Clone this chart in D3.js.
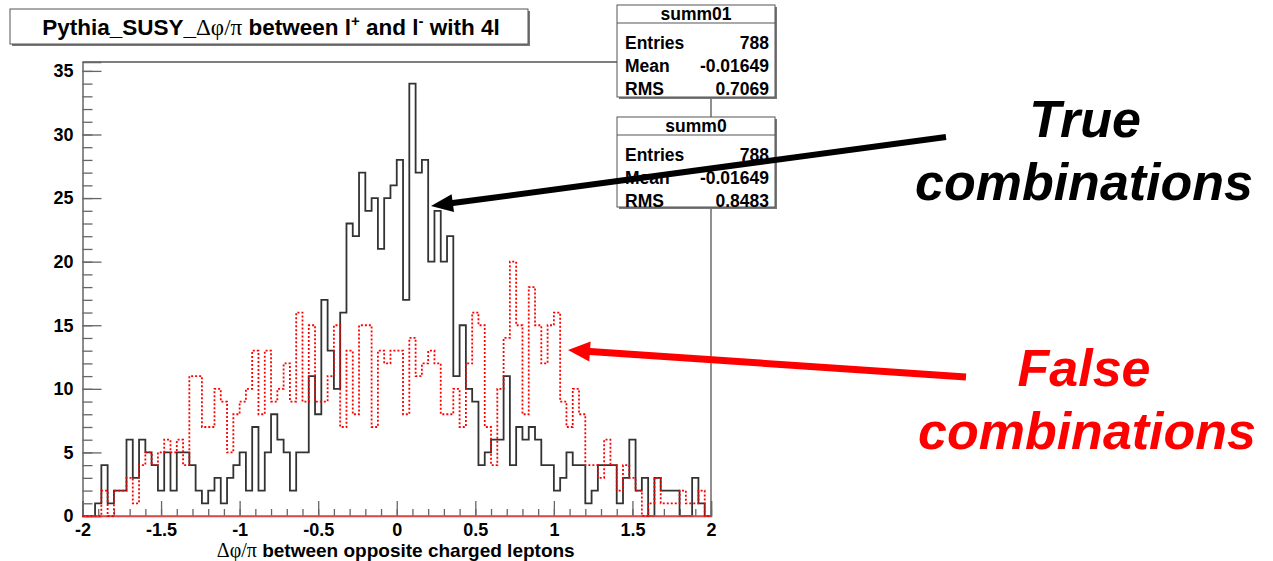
<!DOCTYPE html>
<html><head><meta charset="utf-8">
<script src="https://cdn.jsdelivr.net/npm/d3@7"></script>
<style>
body{margin:0;background:#fff;}
svg{display:block;}
text{font-family:"Liberation Sans",Arial,Helvetica,sans-serif;}
</style>
</head><body>
<svg id="c" width="1273" height="561"></svg>
<script>
// ---- data ----
const xMin = -2, xMax = 2;
const trueCounts = [0,0,1,4,1,2,2,6,3,6,5,4,2,5,2,5,5,4,2,1,2,3,1,3,4,
  5,2,7,2,5,8,6,5,2,5,5,11,8,17,13,10,16,23,22,27,24,25,21,25,26,
  28,17,34,27,28,20,24,20,22,11,15,10,9,4,5,6,6,11,4,7,6,7,6,4,4,
  2,3,5,4,4,1,2,4,4,4,1,3,6,2,3,0,3,2,2,2,0,0,3,1,0];
const falseCounts = [0,0,0,2,0,2,2,3,1,4,5,4,5,6,5,6,4,11,11,7,7,10,9,5,8,
  9,10,13,8,13,9,10,12,9,16,9,15,9,9,11,15,7,13,8,15,15,7,13,12,13,
  13,8,14,11,12,13,12,8,8,10,7,12,16,15,7,4,10,14,20,15,8,18,15,12,15,
  16,9,7,10,8,4,4,3,6,4,2,4,3,2,0,1,3,1,1,1,2,1,1,2,0];
const yTicks = [0,5,10,15,20,25,30,35];
const xTicks = [-2,-1.5,-1,-0.5,0,0.5,1,1.5,2];
const xTickLabels = ["-2","-1.5","-1","-0.5","0","0.5","1","1.5","2"];
const statNames = ["summ01","summ0"];
const statEntries = ["788","788"];
const statMeans = ["-0.01649","-0.01649"];
const statRms = ["0.7069","0.8483"];

// ---- layout ----
const svg = d3.select("#c");
const L = 82.5, R = 711, T = 62, B = 516;
const x = d3.scaleLinear().domain([xMin, xMax]).range([L, R]);
const y = d3.scaleLinear().domain([0, 35.7]).range([B, T]);

// frame
svg.append("path").attr("d", `M${L},${T}H${R}V${B}`).attr("fill","none").attr("stroke","#555").attr("stroke-width",1.3);

// axes
function styleAxis(g){ g.selectAll("line").attr("stroke","#666").attr("stroke-width",1.3); g.select(".domain").attr("stroke","#666").attr("stroke-width",1.5); }
const yMinor = svg.append("g").attr("transform",`translate(${L},0)`)
  .call(d3.axisLeft(y).tickValues(d3.range(0,36,1)).tickSize(-10).tickFormat(""));
yMinor.select(".domain").remove(); styleAxis(yMinor);
const yMajor = svg.append("g").attr("transform",`translate(${L},0)`)
  .call(d3.axisLeft(y).tickValues(yTicks).tickSize(-19).tickPadding(9));
styleAxis(yMajor);
yMajor.selectAll("text").attr("font-size",18).attr("font-weight","bold").attr("fill","#000");

const xMinor = svg.append("g").attr("transform",`translate(0,${B})`)
  .call(d3.axisBottom(x).tickValues(d3.range(-20,21).map(d=>d/10)).tickSize(-7).tickFormat(""));
xMinor.select(".domain").remove(); styleAxis(xMinor);
const xMajor = svg.append("g").attr("transform",`translate(0,${B})`)
  .call(d3.axisBottom(x).tickValues(xTicks).tickSize(-15).tickPadding(7).tickFormat((d,i)=>xTickLabels[i]));
styleAxis(xMajor);
xMajor.selectAll("text").attr("font-size",18).attr("font-weight","bold").attr("fill","#000");

// axis title
const xt = svg.append("text").attr("x", x(0)-1).attr("y", 557).attr("text-anchor","middle")
  .attr("font-size",19).attr("font-weight","bold");
xt.append("tspan").attr("font-family","'Liberation Serif',serif").attr("font-weight","normal").attr("font-size",20).text("Δφ/π");
xt.append("tspan").text(" between opposite charged leptons");

// histograms
function stepPoints(counts){
  const w = (xMax - xMin) / counts.length;
  const pts = [[xMin, 0]];
  counts.forEach((c,i)=>{ pts.push([xMin + i*w, c]); pts.push([xMin + (i+1)*w, c]); });
  pts.push([xMax, 0]);
  return pts;
}
const line = d3.line().x(d=>x(d[0])).y(d=>y(d[1]));
svg.append("path").attr("d", line(stepPoints(trueCounts))).attr("fill","none")
  .attr("stroke","#333").attr("stroke-width",1.8);
svg.append("path").attr("d", line([[xMin,0],[xMax,0]])).attr("stroke","#ff4040").attr("stroke-width",1.6);
svg.append("path").attr("d", line(stepPoints(falseCounts))).attr("fill","none")
  .attr("stroke","#ff0000").attr("stroke-width",1.8).attr("stroke-dasharray","2,2");

// title box
function pave(x0,y0,w,h){
  svg.append("rect").attr("x",x0+2).attr("y",y0+2).attr("width",w).attr("height",h).attr("fill","#777");
  svg.append("rect").attr("x",x0).attr("y",y0).attr("width",w).attr("height",h).attr("fill","#fff").attr("stroke","#555").attr("stroke-width",1);
}
pave(10,9,518,35);
const tt = svg.append("text").attr("x",271).attr("y",35).attr("text-anchor","middle").attr("font-size",22.5).attr("font-weight","bold");
tt.append("tspan").text("Pythia_SUSY_");
tt.append("tspan").attr("font-family","'Liberation Serif',serif").attr("font-weight","normal").attr("font-size",23).text("Δφ/π");
tt.append("tspan").text(" between l");
tt.append("tspan").attr("font-size",15).attr("dy",-9).text("+");
tt.append("tspan").attr("dy",9).text(" and l");
tt.append("tspan").attr("font-size",15).attr("dy",-9).text("-");
tt.append("tspan").attr("dy",9).text(" with 4l");

// stats boxes
const boxY = [5, 117];
const boxH = [92, 90];
statNames.forEach((n,i)=>{
  const x0 = 617, w = 158, y0 = boxY[i];
  pave(x0,y0,w,boxH[i]);
  svg.append("line").attr("x1",x0).attr("x2",x0+w).attr("y1",y0+18).attr("y2",y0+18).attr("stroke","#555");
  const g = svg.append("g").attr("font-size",17.5).attr("font-weight","bold");
  g.append("text").attr("x",x0+w/2).attr("y",y0+15).attr("text-anchor","middle").text(n);
  const rows = [["Entries",statEntries[i]],["Mean",statMeans[i]],["RMS",statRms[i]]];
  rows.forEach((r,j)=>{
    const yy = y0 + 44 + j*23;
    g.append("text").attr("x",x0+8).attr("y",yy).text(r[0]);
    g.append("text").attr("x",x0+w-6).attr("y",yy).attr("text-anchor","end").text(r[1]);
  });
});

// arrows
function arrow(x1,y1,x2,y2,shaft,headLen,headHalf,color){
  const dx=x2-x1, dy=y2-y1, Ln=Math.hypot(dx,dy), ux=dx/Ln, uy=dy/Ln, nx=-uy, ny=ux;
  const bx=x2-ux*headLen, by=y2-uy*headLen;
  const pts=[[x1+nx*shaft/2,y1+ny*shaft/2],[bx+nx*shaft/2,by+ny*shaft/2],[bx+nx*headHalf,by+ny*headHalf],[x2,y2],
    [bx-nx*headHalf,by-ny*headHalf],[bx-nx*shaft/2,by-ny*shaft/2],[x1-nx*shaft/2,y1-ny*shaft/2]];
  svg.append("polygon").attr("points",pts.map(p=>p.join(",")).join(" ")).attr("fill",color);
}
arrow(946,137,431,206,6,22,9,"#000");
arrow(966,377,568,350,7,22,10,"#ff0000");

// annotations
const ann = svg.append("g").attr("font-size",52).attr("font-weight","bold").attr("font-style","italic").attr("text-anchor","middle");
ann.append("text").attr("x",1085).attr("y",137).attr("fill","#000").text("True");
ann.append("text").attr("x",1084).attr("y",200).attr("fill","#000").text("combinations");
ann.append("text").attr("x",1084).attr("y",386).attr("fill","#ff0000").text("False");
ann.append("text").attr("x",1087).attr("y",449).attr("fill","#ff0000").text("combinations");
</script>
</body></html>
